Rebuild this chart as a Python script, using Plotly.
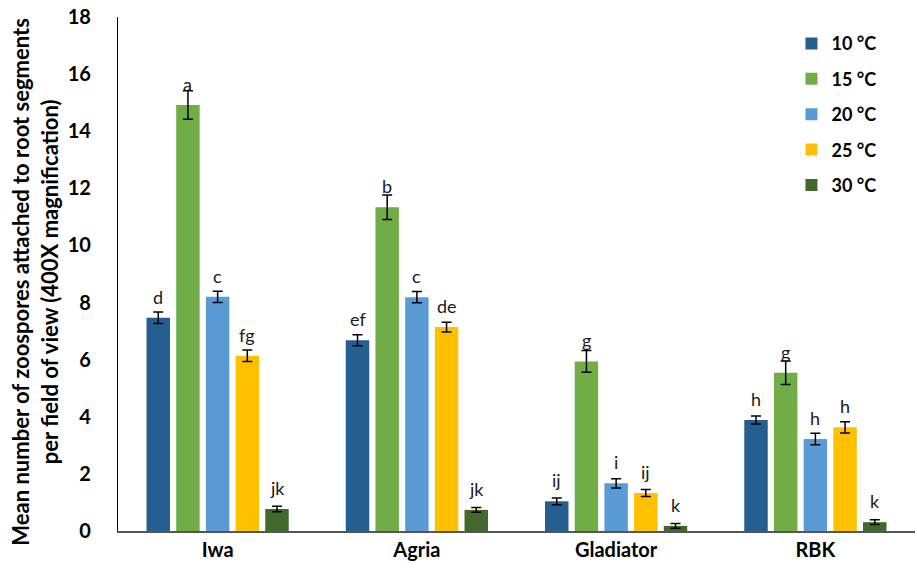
import plotly.graph_objects as go

# Cultivars and temperature treatments
cultivars = ["Iwa", "Agria", "Gladiator", "RBK"]
temps = ["10 °C", "15 °C", "20 °C", "25 °C", "30 °C"]
colors = ["#255E91", "#70AD47", "#5B9BD5", "#FFC000", "#43682B"]

# Mean zoospores per field of view, one list per temperature (order = cultivars)
mean_10 = [7.47, 6.68, 1.04, 3.89]
mean_15 = [14.92, 11.34, 5.94, 5.54]
mean_20 = [8.20, 8.19, 1.67, 3.22]
mean_25 = [6.14, 7.14, 1.33, 3.63]
mean_30 = [0.77, 0.74, 0.18, 0.31]

# Standard errors
se_10 = [0.20, 0.19, 0.12, 0.14]
se_15 = [0.50, 0.43, 0.38, 0.41]
se_20 = [0.20, 0.20, 0.16, 0.20]
se_25 = [0.20, 0.17, 0.12, 0.20]
se_30 = [0.10, 0.08, 0.08, 0.08]

# Significance letters
let_10 = ["d", "ef", "ij", "h"]
let_15 = ["a", "b", "g", "g"]
let_20 = ["c", "c", "i", "h"]
let_25 = ["fg", "de", "ij", "h"]
let_30 = ["jk", "jk", "k", "k"]

means = [mean_10, mean_15, mean_20, mean_25, mean_30]
ses = [se_10, se_15, se_20, se_25, se_30]
letters = [let_10, let_15, let_20, let_25, let_30]

FONT = "Lato"

fig = go.Figure()
for i, t in enumerate(temps):
    fig.add_trace(go.Bar(
        name=t,
        x=cultivars,
        y=means[i],
        marker=dict(color=colors[i], line=dict(width=0)),
        error_y=dict(type="data", array=ses[i], color="black",
                     thickness=1.5, width=5),
        legendgroup=t,
        offsetgroup=str(i),
    ))

# Letters above each bar
n = len(temps)
slot = 0.745 / n
for i in range(n):
    off = -0.745 / 2 + slot * (i + 0.5)
    for j, c in enumerate(cultivars):
        fig.add_annotation(
            x=j + off, y=means[i][j], xref="x", yref="y",
            text=letters[i][j], showarrow=False,
            yanchor="middle", yshift=21,
            font=dict(family=FONT, size=18, color="#1a1a1a"),
        )

# Y-axis title as a rotated annotation
fig.add_annotation(
    x=0, y=0.485, xref="paper", yref="paper",
    xanchor="center", yanchor="middle", xshift=-83,
    text="Mean number of zoospores attached to root segments<br>per field of view (400X magnification)",
    textangle=-90, showarrow=False,
    font=dict(family=FONT, size=22, color="black", weight="bold"),
)

fig.update_layout(
    width=917, height=571,
    margin=dict(l=118, r=2, t=17, b=40),
    plot_bgcolor="white", paper_bgcolor="white",
    barmode="group", bargap=0.255, bargroupgap=0.21,
    font=dict(family=FONT, color="black"),
    showlegend=True,
    legend=dict(
        x=0.845, y=0.984, xanchor="left", yanchor="top",
        font=dict(family=FONT, size=18, color="black", weight="bold"),
        tracegroupgap=9, bgcolor="rgba(0,0,0,0)",
        itemwidth=30,
    ),
    xaxis=dict(
        type="category",
        showline=True, linecolor="#555555", linewidth=1.5,
        ticks="", showgrid=False,
        tickfont=dict(family=FONT, size=20, color="black", weight="bold"),
    ),
    yaxis=dict(
        range=[0, 18], dtick=2,
        showline=True, linecolor="black", linewidth=1.2,
        ticks="", showgrid=False, zeroline=False,
        tickfont=dict(family=FONT, size=20, color="black", weight="bold"),
        ticklabelstandoff=22,
    ),
)

fig.write_html("out.html")
